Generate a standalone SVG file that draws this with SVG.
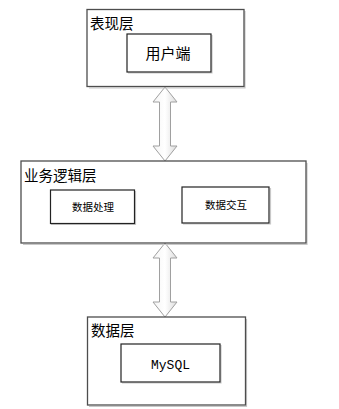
<svg xmlns="http://www.w3.org/2000/svg" width="339" height="409" viewBox="0 0 339 409">
<defs>
<linearGradient id="ag" x1="0" y1="0" x2="1" y2="0">
<stop offset="0" stop-color="#f4f4f4"/>
<stop offset="0.5" stop-color="#ffffff"/>
<stop offset="1" stop-color="#dcdcdc"/>
</linearGradient>
</defs>
<style>
.outer{fill:#fff;stroke:#4d4d4d;stroke-width:1.3}
.inner{fill:#fff;stroke:#222;stroke-width:1.2}
.shadow{fill:none;stroke:#c8c8c8;stroke-width:1.2}
.title{font-family:"Noto Sans CJK SC","Noto Sans",sans-serif;font-size:14.5px;fill:#000}
.lbl{font-family:"Noto Sans CJK SC","Noto Sans",sans-serif;font-size:15px;fill:#000;text-anchor:middle}
.sm{font-family:"Noto Sans CJK SC","Noto Sans",sans-serif;font-size:10.5px;fill:#000;text-anchor:middle}
.mono{font-family:"Liberation Mono",monospace;font-size:13px;fill:#000;text-anchor:middle}
.arrow{fill:url(#ag);stroke:#a0a0a0;stroke-width:1}
</style>
<g id="connectors">
<path class="arrow" d="M165,87 L177,102 L170.5,102 L170.5,146 L177,146 L165,161 L153,146 L159.5,146 L159.5,102 L153,102 Z"/>
<path class="arrow" d="M165,243 L177,258 L170.5,258 L170.5,302 L177,302 L165,317 L153,302 L159.5,302 L159.5,258 L153,258 Z"/>
</g>
<g id="presentation">
<path class="shadow" d="M89,88 L245,88 L245,11"/>
<rect class="outer" x="87" y="9.5" width="157" height="77"/>
<text class="title" x="90" y="29">表现层</text>
</g>
<g id="client">
<path class="shadow" d="M128,73 L212,73 L212,35"/>
<rect class="inner" x="127" y="34" width="84" height="38"/>
<text class="lbl" x="168" y="59">用户端</text>
</g>
<g id="business">
<path class="shadow" d="M23,244.5 L307,244.5 L307,163"/>
<rect class="outer" x="21" y="161" width="285" height="82"/>
<text class="title" x="24" y="181">业务逻辑层</text>
</g>
<g id="process">
<path class="shadow" d="M51,224.5 L135.5,224.5 L135.5,191"/>
<rect class="inner" x="50.5" y="190" width="84" height="33.5"/>
<text class="sm" x="93" y="211">数据处理</text>
</g>
<g id="interact">
<path class="shadow" d="M183,224 L270.5,224 L270.5,188"/>
<rect class="inner" x="182" y="187" width="87" height="36"/>
<text class="sm" x="226" y="209">数据交互</text>
</g>
<g id="data">
<path class="shadow" d="M89,406.5 L246.5,406.5 L246.5,319"/>
<rect class="outer" x="87.5" y="317" width="158" height="88"/>
<text class="title" x="91" y="336">数据层</text>
</g>
<g id="mysql">
<path class="shadow" d="M122,383 L221,383 L221,345"/>
<rect class="inner" x="121" y="344" width="99" height="38"/>
<text class="mono" x="170.5" y="369">MySQL</text>
</g>
</svg>
